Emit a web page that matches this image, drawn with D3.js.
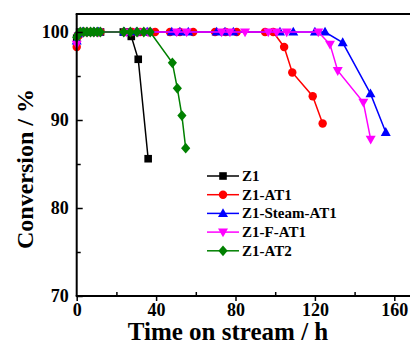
<!DOCTYPE html>
<html>
<head>
<meta charset="utf-8">
<script src="https://cdn.jsdelivr.net/npm/d3@7"></script>
<style>
    body { margin: 0; background: #fff; }
    svg { display: block; }
</style>
</head>
<body>
<div id="chart"></div>
<script>
//Series data (time in h, conversion in %)
var seriesNames = ["Z1", "Z1-AT1", "Z1-Steam-AT1", "Z1-F-AT1", "Z1-AT2"];

var z1Time = [0, 1.5, 3.5, 5.2, 7, 8.6, 10.3, 12, 23.5, 25.5, 27.5, 31, 36];
var z1Conv = [99.3, 100, 100, 100, 100, 100, 100, 100, 100, 100, 99.5, 96.9, 85.6];

var at1Time = [0, 1, 2.5, 4.5, 6.5, 8.5, 10.5, 12, 24, 28, 32, 36, 39.5, 47, 52, 58.7, 69.7, 75, 80.6, 94.9, 99, 104.5, 108.6, 118.9, 123.9];
var at1Conv = [98.3, 99.6, 100, 100, 100, 100, 100, 100, 100, 100, 100, 100, 100, 100, 100, 100, 100, 100, 100, 100, 100, 98.3, 95.4, 92.7, 89.6];

var steamTime = [0, 1, 3, 5, 7, 9, 11, 24, 30, 35.5, 47.9, 52, 56.2, 70.5, 74.7, 78.9, 102.4, 109.1, 120, 125.1, 134, 148, 155.7];
var steamConv = [99, 99.8, 100, 100, 100, 100, 100, 100, 100, 100, 100, 100, 100, 100, 100, 100, 100, 100, 100, 100, 98.8, 93, 88.6];

var fat1Time = [0, 1, 3, 5, 7, 9, 11, 25, 31, 36, 50.4, 55.4, 73, 77.2, 84.8, 96.5, 100.7, 105.8, 121.7, 127.6, 131.5, 144.4, 148.1];
var fat1Conv = [98.6, 99.6, 100, 100, 100, 100, 100, 100, 100, 100, 100, 100, 100, 100, 100, 100, 100, 100, 100, 98.6, 95.6, 92, 87.8];

var at2Time = [0, 0.8, 1.8, 3.5, 5.2, 7, 8.6, 10.3, 11.9, 23.7, 27, 30.4, 33.8, 37, 48.2, 50.7, 53, 54.9];
var at2Conv = [99.4, 99.8, 100, 100, 100, 100, 100, 100, 100, 100, 100, 100, 100, 100, 96.5, 93.6, 90.5, 86.8];

//Axis ticks
var xMajorTicks = [0, 40, 80, 120, 160];
var xMinorTicks = [20, 60, 100, 140];
var yMajorTicks = [70, 80, 90, 100];
var yMinorTicks = [75, 85, 95];

var xLabel = "Time on stream / h";
var yLabel = "Conversion / %";

//Configuration
var configuration = {
    width: 410,
    height: 346,
    left: 76.7,
    right: 394.3,
    top: 14,
    bottom: 296,
    font: "'Times New Roman', 'Liberation Serif', serif"
};

var seriesList = [
    { name: seriesNames[0], time: z1Time, conv: z1Conv, color: "#000000", symbol: "square" },
    { name: seriesNames[1], time: at1Time, conv: at1Conv, color: "#ff0000", symbol: "circle" },
    { name: seriesNames[2], time: steamTime, conv: steamConv, color: "#0000ff", symbol: "up" },
    { name: seriesNames[3], time: fat1Time, conv: fat1Conv, color: "#ff00ff", symbol: "down" },
    { name: seriesNames[4], time: at2Time, conv: at2Conv, color: "#008000", symbol: "diamond" }
];

var cfg = configuration;

//Scales: 0..160 h maps to the tick positions, 70..~102 % maps to the frame
var x = d3.scaleLinear().domain([0, 160]).range([cfg.left, cfg.right]);
var y = d3.scaleLinear().domain([70, 100]).range([cfg.bottom, 32]);

var svg = d3.select("#chart")
    .append("svg")
        .attr("width", cfg.width)
        .attr("height", cfg.height)
        .style("font-family", cfg.font);

//Marker path for each symbol type
function markerPath(symbol) {
    if (symbol === "square") return "M-3.8,-3.8h7.6v7.6h-7.6z";
    if (symbol === "circle") return d3.symbol(d3.symbolCircle, 56)();
    if (symbol === "up") return "M0,-5.2L5,3.6L-5,3.6z";
    if (symbol === "down") return "M0,5.2L5,-3.6L-5,-3.6z";
    return "M0,-5.4L4.6,0L0,5.4L-4.6,0z";
}

//Draw series lines and markers
var line = d3.line()
    .x(function(d) { return x(d[0]); })
    .y(function(d) { return y(d[1]); });

seriesList.forEach(function(s) {
    var points = s.time.map(function(t, i) { return [t, s.conv[i]]; });
    var g = svg.append("g");

    g.append("path")
        .attr("d", line(points))
        .attr("fill", "none")
        .attr("stroke", s.color)
        .attr("stroke-width", 1.5);

    g.selectAll("path.marker")
        .data(points)
        .enter()
        .append("path")
            .attr("class", "marker")
            .attr("d", markerPath(s.symbol))
            .attr("transform", function(d) { return "translate(" + x(d[0]) + "," + y(d[1]) + ")"; })
            .attr("fill", s.color);
});

//Frame: left, bottom, top lines
svg.append("line")
    .attr("x1", cfg.left).attr("x2", cfg.left)
    .attr("y1", cfg.top).attr("y2", cfg.bottom)
    .attr("stroke", "#000").attr("stroke-width", 2);
svg.append("line")
    .attr("x1", cfg.left - 1).attr("x2", cfg.width)
    .attr("y1", cfg.bottom).attr("y2", cfg.bottom)
    .attr("stroke", "#000").attr("stroke-width", 2);
svg.append("line")
    .attr("x1", cfg.left - 1).attr("x2", cfg.width)
    .attr("y1", cfg.top).attr("y2", cfg.top)
    .attr("stroke", "#000").attr("stroke-width", 2);

//X axis: major ticks outside, minor ticks inside
var xAxis = svg.append("g")
    .attr("transform", "translate(0," + cfg.bottom + ")")
    .call(d3.axisBottom(x).tickValues(xMajorTicks).tickSize(5).tickFormat(d3.format("d")));
xAxis.select(".domain").remove();
xAxis.selectAll(".tick line").attr("stroke-width", 1.5);
xAxis.selectAll(".tick text")
    .attr("y", 7)
    .style("font-size", "18px")
    .style("font-weight", "bold")
    .style("font-family", cfg.font);

var xMinor = svg.append("g")
    .attr("transform", "translate(0," + cfg.bottom + ")")
    .call(d3.axisTop(x).tickValues(xMinorTicks).tickSize(4).tickFormat(""));
xMinor.select(".domain").remove();
xMinor.selectAll(".tick line").attr("stroke-width", 1.5);

//Y axis: ticks inside
var yAxis = svg.append("g")
    .attr("transform", "translate(" + cfg.left + ",0)")
    .call(d3.axisRight(y).tickValues(yMajorTicks).tickSize(6).tickFormat(d3.format("d")));
yAxis.select(".domain").remove();
yAxis.selectAll(".tick line").attr("stroke-width", 1.5);
yAxis.selectAll(".tick text")
    .attr("x", -8)
    .attr("text-anchor", "end")
    .style("font-size", "18px")
    .style("font-weight", "bold")
    .style("font-family", cfg.font);

var yMinor = svg.append("g")
    .attr("transform", "translate(" + cfg.left + ",0)")
    .call(d3.axisRight(y).tickValues(yMinorTicks).tickSize(4).tickFormat(""));
yMinor.select(".domain").remove();
yMinor.selectAll(".tick line").attr("stroke-width", 1.5);

//Axis titles
svg.append("text")
    .attr("x", 228)
    .attr("y", 340)
    .attr("text-anchor", "middle")
    .style("font-size", "25px")
    .style("font-weight", "bold")
    .text(xLabel);

svg.append("text")
    .attr("transform", "translate(33,169) rotate(-90)")
    .attr("text-anchor", "middle")
    .style("font-size", "24px")
    .style("font-weight", "bold")
    .text(yLabel);

//Legend
var legend = svg.append("g").attr("transform", "translate(207,176)");
seriesList.forEach(function(s, i) {
    var row = legend.append("g").attr("transform", "translate(0," + (i * 18.7) + ")");
    row.append("line")
        .attr("x1", 0).attr("x2", 32)
        .attr("stroke", s.color).attr("stroke-width", 1.5);
    row.append("path")
        .attr("d", markerPath(s.symbol))
        .attr("transform", "translate(16,0)")
        .attr("fill", s.color);
    row.append("text")
        .attr("x", 35)
        .attr("y", 5)
        .style("font-size", "15px")
        .style("font-weight", "bold")
        .text(s.name);
});
</script>
</body>
</html>
